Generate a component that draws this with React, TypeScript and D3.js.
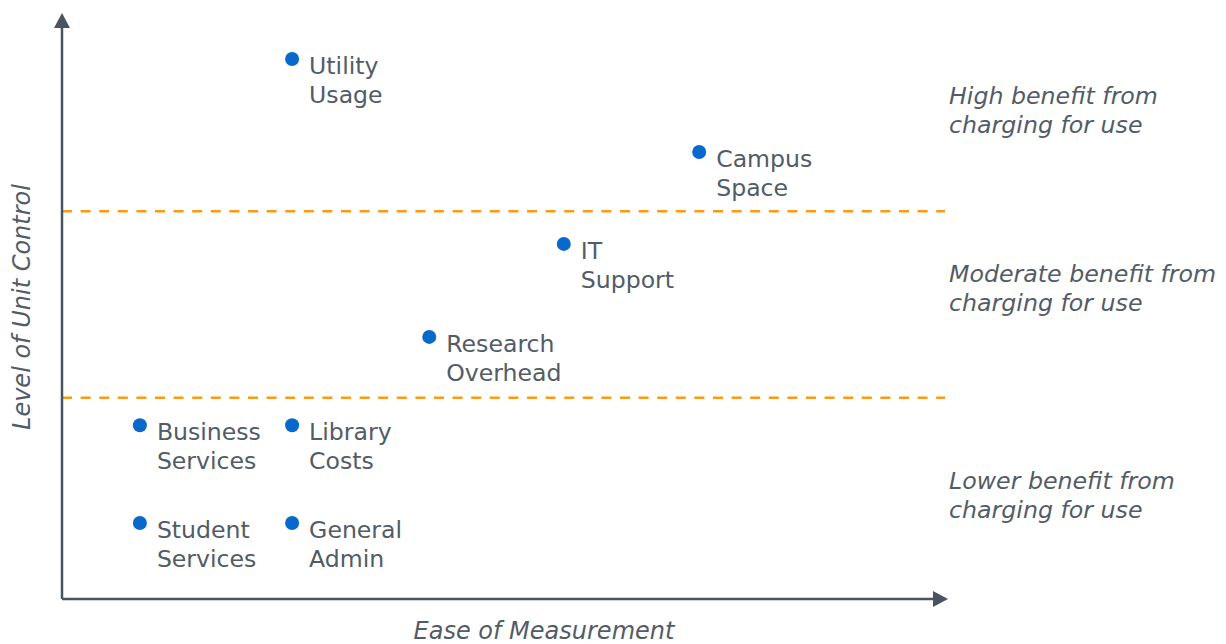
import React from "react";
import * as d3 from "d3";

const names: string[][] = [
  ["Utility", "Usage"],
  ["Campus", "Space"],
  ["IT", "Support"],
  ["Research", "Overhead"],
  ["Business", "Services"],
  ["Library", "Costs"],
  ["Student", "Services"],
  ["General", "Admin"],
];
const easeValues = [26, 72, 56.7, 41.5, 8.8, 26, 8.8, 26];
const controlValues = [92.3, 76.4, 60.7, 44.8, 29.7, 29.7, 13, 13];
const thresholds = [66.3, 34.4];
const zoneLabels: string[][] = [
  ["High benefit from", "charging for use"],
  ["Moderate benefit from", "charging for use"],
  ["Lower benefit from", "charging for use"],
];
const zoneLabelValues = [85.3, 54.9, 19.5];
const xTitle = "Ease of Measurement";
const yTitle = "Level of Unit Control";

const W = 1226;
const H = 644;
const FONT = "'DejaVu Sans', Verdana, sans-serif";
const TEXT = "#525c67";
const AXIS = "#4a5461";
const DOT = "#0868cc";
const DASH = "#fb9a14";

export default function App() {
  const x = d3.scaleLinear().domain([0, 100]).range([62, 947]);
  const y = d3.scaleLinear().domain([0, 100]).range([599, 14]);
  const x0 = x(0);
  const y0 = y(0);
  const lineH = 29;
  return (
    <svg width={W} height={H} style={{ position: "absolute", left: 0, top: 0 }} fontFamily={FONT}>
      {thresholds.map((t, i) => (
        <line key={i} x1={x0} x2={945} y1={y(t)} y2={y(t)} stroke={DASH} strokeWidth={2.5} strokeDasharray="10,8.6" />
      ))}
      <line x1={x0} x2={x0} y1={y0} y2={26} stroke={AXIS} strokeWidth={2.5} />
      <path d={`M${x0 - 8},${28} L${x0},${13} L${x0 + 8},${28} Z`} fill={AXIS} />
      <line x1={x0} x2={933} y1={y0} y2={y0} stroke={AXIS} strokeWidth={2.5} />
      <path d={`M${933},${y0 - 8} L${948},${y0} L${933},${y0 + 8} Z`} fill={AXIS} />
      {names.map((n, i) => {
        const cx = x(easeValues[i]);
        const cy = y(controlValues[i]);
        return (
          <g key={i}>
            <circle cx={cx} cy={cy} r={7} fill={DOT} />
            {n.map((s, j) => (
              <text key={j} x={cx + 17} y={cy + 15 + j * lineH} fontSize={23.6} fill={TEXT}>
                {s}
              </text>
            ))}
          </g>
        );
      })}
      {zoneLabels.map((zl, i) => (
        <g key={i}>
          {zl.map((s, j) => (
            <text key={j} x={949} y={y(zoneLabelValues[i]) + 4 + j * lineH} fontSize={23.7} fontStyle="italic" fill={TEXT}>
              {s}
            </text>
          ))}
        </g>
      ))}
      <text x={544} y={639} textAnchor="middle" fontSize={24} fontStyle="italic" fill={TEXT}>
        {xTitle}
      </text>
      <text transform={`translate(30,307) rotate(-90)`} textAnchor="middle" fontSize={24} fontStyle="italic" fill={TEXT}>
        {yTitle}
      </text>
    </svg>
  );
}
